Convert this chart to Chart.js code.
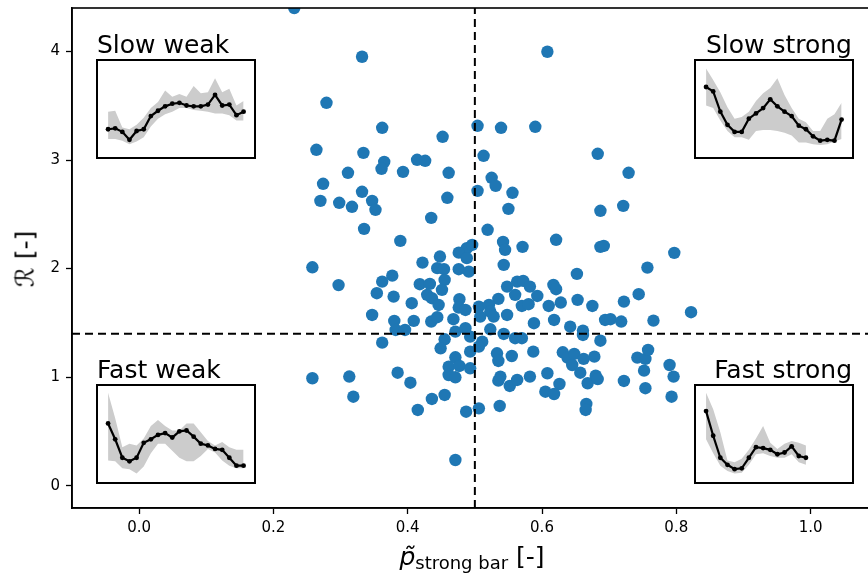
<!DOCTYPE html>
<html>
<head>
<meta charset="utf-8">
<script src="https://cdn.jsdelivr.net/npm/chart.js@4.4.1/dist/chart.umd.min.js"></script>
<style>
  body { margin: 0; background: #fff; }
  #wrap { position: relative; width: 868px; height: 578px; overflow: hidden; font-family: "DejaVu Sans", sans-serif; color: #000; }
  #main { position: absolute; left: 0; top: 0; }
  .tag { position: absolute; font-size: 25px; line-height: 1; white-space: nowrap; }
  .inset { position: absolute; width: 160px; height: 100px; border: 2px solid #000; box-sizing: border-box; background: #fff; }
  .inset canvas { display: block; }
  #xlabel { position: absolute; left: 72px; width: 800px; top: 544px; text-align: center; font-size: 25px; line-height: 1; white-space: nowrap; }
  #xlabel i { font-style: italic; }
  #xlabel .sub { font-size: 18px; position: relative; top: 4px; }
  #ylabel { position: absolute; left: 25px; top: 259px; font-size: 25px; line-height: 1; white-space: nowrap; transform: translate(-50%, -50%) rotate(-90deg); }
</style>
</head>
<body>
<div id="wrap">
  <canvas id="main" width="880" height="578"></canvas>

  <div class="tag" style="left:97px; top:32px">Slow weak</div>
  <div class="tag" style="right:16px; top:32px">Slow strong</div>
  <div class="tag" style="left:97px; top:357px">Fast weak</div>
  <div class="tag" style="right:16px; top:357px">Fast strong</div>

  <div class="inset" style="left:96px; top:59px"><canvas id="slowWeak" width="156" height="96"></canvas></div>
  <div class="inset" style="left:694px; top:59px"><canvas id="slowStrong" width="156" height="96"></canvas></div>
  <div class="inset" style="left:96px; top:384px"><canvas id="fastWeak" width="156" height="96"></canvas></div>
  <div class="inset" style="left:694px; top:384px"><canvas id="fastStrong" width="156" height="96"></canvas></div>

  <div id="xlabel"><i>p&#771;</i><span class="sub">strong bar</span> [-]</div>
  <div id="ylabel">&#8475; [-]</div>
</div>

<script>
// strong-bar share vs R, one point per case
const SCATTER_X = [
  0.231, 0.332, 0.279, 0.362, 0.452, 0.264, 0.334, 0.365, 0.361, 0.414,
  0.426, 0.393, 0.461, 0.311, 0.274, 0.332, 0.347, 0.352, 0.270, 0.298,
  0.317, 0.459, 0.435, 0.335, 0.389, 0.488, 0.476, 0.448, 0.422, 0.488,
  0.608, 0.504, 0.539, 0.590, 0.513, 0.683, 0.729, 0.525, 0.531, 0.504,
  0.556, 0.550, 0.687, 0.721, 0.519, 0.621, 0.542, 0.545, 0.571, 0.687,
  0.692, 0.797, 0.496,
  0.444, 0.454, 0.476, 0.491, 0.377, 0.362, 0.455, 0.418, 0.433, 0.451,
  0.354, 0.379, 0.429, 0.436, 0.406, 0.446, 0.477, 0.476, 0.486, 0.347,
  0.380, 0.409, 0.435, 0.444, 0.468, 0.382, 0.396, 0.471, 0.486, 0.362,
  0.455, 0.449, 0.493, 0.493, 0.471, 0.461, 0.477, 0.493, 0.461, 0.471,
  0.385, 0.404, 0.436, 0.455, 0.415, 0.487, 0.471, 0.258, 0.297, 0.258,
  0.313, 0.319,
  0.543, 0.548, 0.563, 0.572, 0.582, 0.560, 0.593, 0.535, 0.506, 0.521,
  0.523, 0.528, 0.508, 0.570, 0.580, 0.548, 0.588, 0.523, 0.543, 0.560,
  0.570, 0.511, 0.506, 0.533, 0.535, 0.555, 0.587, 0.538, 0.535, 0.552,
  0.563, 0.582, 0.506, 0.537, 0.652, 0.757, 0.617, 0.621, 0.610, 0.628,
  0.653, 0.675, 0.722, 0.744, 0.822, 0.618, 0.642, 0.661, 0.661, 0.694,
  0.702, 0.718, 0.766, 0.687, 0.631, 0.638, 0.648, 0.645, 0.662, 0.678,
  0.657, 0.608, 0.626, 0.605, 0.618, 0.668, 0.680, 0.683, 0.722, 0.742,
  0.754, 0.758, 0.752, 0.754, 0.790, 0.796, 0.793, 0.666, 0.665
];
const SCATTER_Y = [
  4.400, 3.951, 3.527, 3.297, 3.214, 3.094, 3.066, 2.983, 2.919, 3.002,
  2.993, 2.891, 2.882, 2.882, 2.781, 2.707, 2.624, 2.541, 2.624, 2.606,
  2.569, 2.652, 2.467, 2.366, 2.255, 2.188, 2.147, 2.111, 2.055, 2.096,
  3.997, 3.315, 3.297, 3.306, 3.039, 3.057, 2.882, 2.836, 2.762, 2.716,
  2.698, 2.550, 2.532, 2.578, 2.357, 2.265, 2.246, 2.172, 2.200, 2.200,
  2.209, 2.145, 2.218,
  2.004, 1.994, 1.994, 1.972, 1.935, 1.880, 1.896, 1.856, 1.859, 1.804,
  1.773, 1.742, 1.758, 1.727, 1.681, 1.665, 1.718, 1.641, 1.619, 1.573,
  1.518, 1.518, 1.512, 1.552, 1.534, 1.435, 1.435, 1.419, 1.451, 1.318,
  1.349, 1.266, 1.373, 1.235, 1.183, 1.097, 1.103, 1.082, 1.020, 0.999,
  1.041, 0.949, 0.799, 0.836, 0.698, 0.682, 0.237, 2.012, 1.848, 0.990,
  1.006, 0.820,
  2.034, 1.834, 1.880, 1.887, 1.834, 1.758, 1.748, 1.721, 1.650, 1.665,
  1.604, 1.558, 1.558, 1.656, 1.672, 1.573, 1.497, 1.441, 1.398, 1.359,
  1.359, 1.327, 1.281, 1.220, 1.149, 1.195, 1.235, 1.005, 0.968, 0.919,
  0.974, 1.005, 0.713, 0.735, 1.951, 2.009, 1.850, 1.810, 1.656, 1.687,
  1.712, 1.656, 1.696, 1.764, 1.598, 1.527, 1.465, 1.429, 1.389, 1.527,
  1.534, 1.512, 1.521, 1.336, 1.229, 1.180, 1.214, 1.112, 1.168, 1.189,
  1.041, 1.036, 0.937, 0.866, 0.845, 0.944, 1.014, 0.983, 0.965, 1.180,
  1.168, 1.251, 1.060, 0.898, 1.112, 1.005, 0.820, 0.753, 0.698
];

// quadrant split
const X_SPLIT = 0.5;
const R_SPLIT = 1.4;

const X_MIN = -0.1, X_MAX = 1.09;
const Y_MIN = -0.205, Y_MAX = 4.40;
const X_TICKS = [0.0, 0.2, 0.4, 0.6, 0.8, 1.0];
const Y_TICKS = [0, 1, 2, 3, 4];

// mean profile of each quadrant with its spread band
const SLOW_WEAK_MEAN = [27, 28, 24, 15, 25, 27, 42, 48, 53, 56, 57, 54, 53, 53, 55, 66, 54, 55, 43, 47];
const SLOW_WEAK_HI   = [47, 48, 29, 27, 32, 40, 51, 58, 71, 64, 67, 64, 76, 68, 69, 85, 69, 73, 54, 59];
const SLOW_WEAK_LO   = [16, 16, 14, 10, 13, 18, 30, 39, 44, 47, 51, 51, 49, 48, 47, 45, 45, 43, 37, 37];

const SLOW_STRONG_MEAN = [75, 70, 47, 32, 24, 24, 39, 45, 51, 61, 53, 47, 42, 31, 27, 19, 14, 15, 14, 38];
const SLOW_STRONG_HI   = [96, 83, 69, 52, 39, 41, 47, 59, 68, 74, 85, 66, 51, 39, 35, 25, 25, 39, 44, 57];
const SLOW_STRONG_LO   = [54, 51, 37, 25, 18, 18, 15, 25, 26, 26, 25, 23, 20, 12, 12, 10, 9, 10, 13, 16];

const FAST_WEAK_MEAN = [62, 44, 23, 19, 23, 40, 44, 49, 51, 46, 53, 54, 47, 39, 37, 33, 32, 23, 14, 14];
const FAST_WEAK_HI   = [97, 68, 35, 39, 37, 45, 59, 66, 59, 54, 54, 62, 62, 52, 42, 37, 41, 35, 32, 32];
const FAST_WEAK_LO   = [20, 19, 11, 10, 5, 13, 28, 39, 39, 31, 23, 19, 19, 25, 33, 29, 20, 14, 11, 11];

const FAST_STRONG_MEAN = [76, 48, 23, 15, 10, 11, 23, 35, 34, 32, 27, 29, 36, 25, 23];
const FAST_STRONG_HI   = [97, 78, 52, 20, 18, 22, 32, 45, 59, 40, 33, 39, 42, 40, 37];
const FAST_STRONG_LO   = [44, 28, 14, 8, 5, 6, 15, 27, 28, 25, 23, 23, 27, 18, 15];

const tickFont = { family: "DejaVu Sans", size: 15 };

function toPoints(xs, ys) {
    let pts = [];
    for (let i = 0; i < xs.length; i++) {
        pts.push({x: xs[i], y: ys[i]});
    }
    return pts;
}

function toSeries(values) {
    let pts = [];
    for (let i = 0; i < values.length; i++) {
        pts.push({x: i, y: values[i]});
    }
    return pts;
}

// top/right spines, chart.js only draws the axis borders
const frame = {
    id: 'frame',
    afterDraw(chart) {
        const a = chart.chartArea;
        const ctx = chart.ctx;
        ctx.save();
        ctx.strokeStyle = '#000';
        ctx.lineWidth = 1.6;
        ctx.strokeRect(a.left, a.top, a.right - a.left, a.bottom - a.top);
        ctx.restore();
    }
};

// fixed axis sizes, no extra room for the end tick labels
function fitX(s) {
    s.height = 70;
    s.paddingLeft = 0;
    s.paddingRight = 0;
}

function fitY(s) {
    s.width = 72;
    s.paddingTop = 0;
    s.paddingBottom = 0;
}

new Chart(document.getElementById('main'), {
    type: 'scatter',
    data: {
        datasets: [
            {
                type: 'line',
                data: [{x: X_SPLIT, y: Y_MIN}, {x: X_SPLIT, y: Y_MAX}],
                borderColor: '#000',
                borderWidth: 2,
                borderDash: [8, 5],
                pointRadius: 0,
                fill: false,
                order: 0
            },
            {
                type: 'line',
                data: [{x: X_MIN, y: R_SPLIT}, {x: X_MAX, y: R_SPLIT}],
                borderColor: '#000',
                borderWidth: 2,
                borderDash: [8, 5],
                pointRadius: 0,
                fill: false,
                order: 0
            },
            {
                data: toPoints(SCATTER_X, SCATTER_Y),
                backgroundColor: '#1f77b4',
                borderWidth: 0,
                pointRadius: 6.2,
                order: 1
            }
        ]
    },
    options: {
        responsive: false,
        animation: false,
        devicePixelRatio: 1,
        events: [],
        layout: {padding: {top: 8, right: 9, left: 0, bottom: 0}},
        plugins: {legend: {display: false}, tooltip: {enabled: false}},
        scales: {
            x: {
                type: 'linear',
                min: X_MIN,
                max: X_MAX,
                afterFit: fitX,
                afterBuildTicks: function (s) { s.ticks = X_TICKS.map(v => ({value: v})); },
                ticks: {
                    callback: v => v.toFixed(1),
                    font: tickFont,
                    color: '#000',
                    padding: 5,
                    maxRotation: 0,
                    autoSkip: false
                },
                grid: {drawOnChartArea: false, color: '#000', tickLength: 6, tickWidth: 1.3},
                border: {color: '#000', width: 1.6}
            },
            y: {
                type: 'linear',
                min: Y_MIN,
                max: Y_MAX,
                afterFit: fitY,
                afterBuildTicks: function (s) { s.ticks = Y_TICKS.map(v => ({value: v})); },
                ticks: {
                    callback: v => String(v),
                    font: tickFont,
                    color: '#000',
                    padding: 6,
                    autoSkip: false
                },
                grid: {drawOnChartArea: false, color: '#000', tickLength: 6, tickWidth: 1.3},
                border: {color: '#000', width: 1.6}
            }
        }
    },
    plugins: [frame]
});

function makeInset(id, mean, hi, lo) {
    return new Chart(document.getElementById(id), {
        type: 'line',
        data: {
            datasets: [
                {
                    data: toSeries(mean),
                    borderColor: '#000',
                    borderWidth: 2.2,
                    pointRadius: 2.4,
                    pointBackgroundColor: '#000',
                    pointBorderWidth: 0,
                    fill: false
                },
                {
                    data: toSeries(hi),
                    borderWidth: 0,
                    pointRadius: 0,
                    backgroundColor: '#cccccc',
                    fill: '+1'
                },
                {
                    data: toSeries(lo),
                    borderWidth: 0,
                    pointRadius: 0,
                    fill: false
                }
            ]
        },
        options: {
            responsive: false,
            animation: false,
            devicePixelRatio: 1,
            events: [],
            layout: {padding: 0},
            plugins: {legend: {display: false}, tooltip: {enabled: false}},
            scales: {
                x: {type: 'linear', display: false, min: -0.85, max: 19.9},
                y: {type: 'linear', display: false, min: 0, max: 100}
            }
        }
    });
}

makeInset('slowWeak', SLOW_WEAK_MEAN, SLOW_WEAK_HI, SLOW_WEAK_LO);
makeInset('slowStrong', SLOW_STRONG_MEAN, SLOW_STRONG_HI, SLOW_STRONG_LO);
makeInset('fastWeak', FAST_WEAK_MEAN, FAST_WEAK_HI, FAST_WEAK_LO);
makeInset('fastStrong', FAST_STRONG_MEAN, FAST_STRONG_HI, FAST_STRONG_LO);
</script>
</body>
</html>
